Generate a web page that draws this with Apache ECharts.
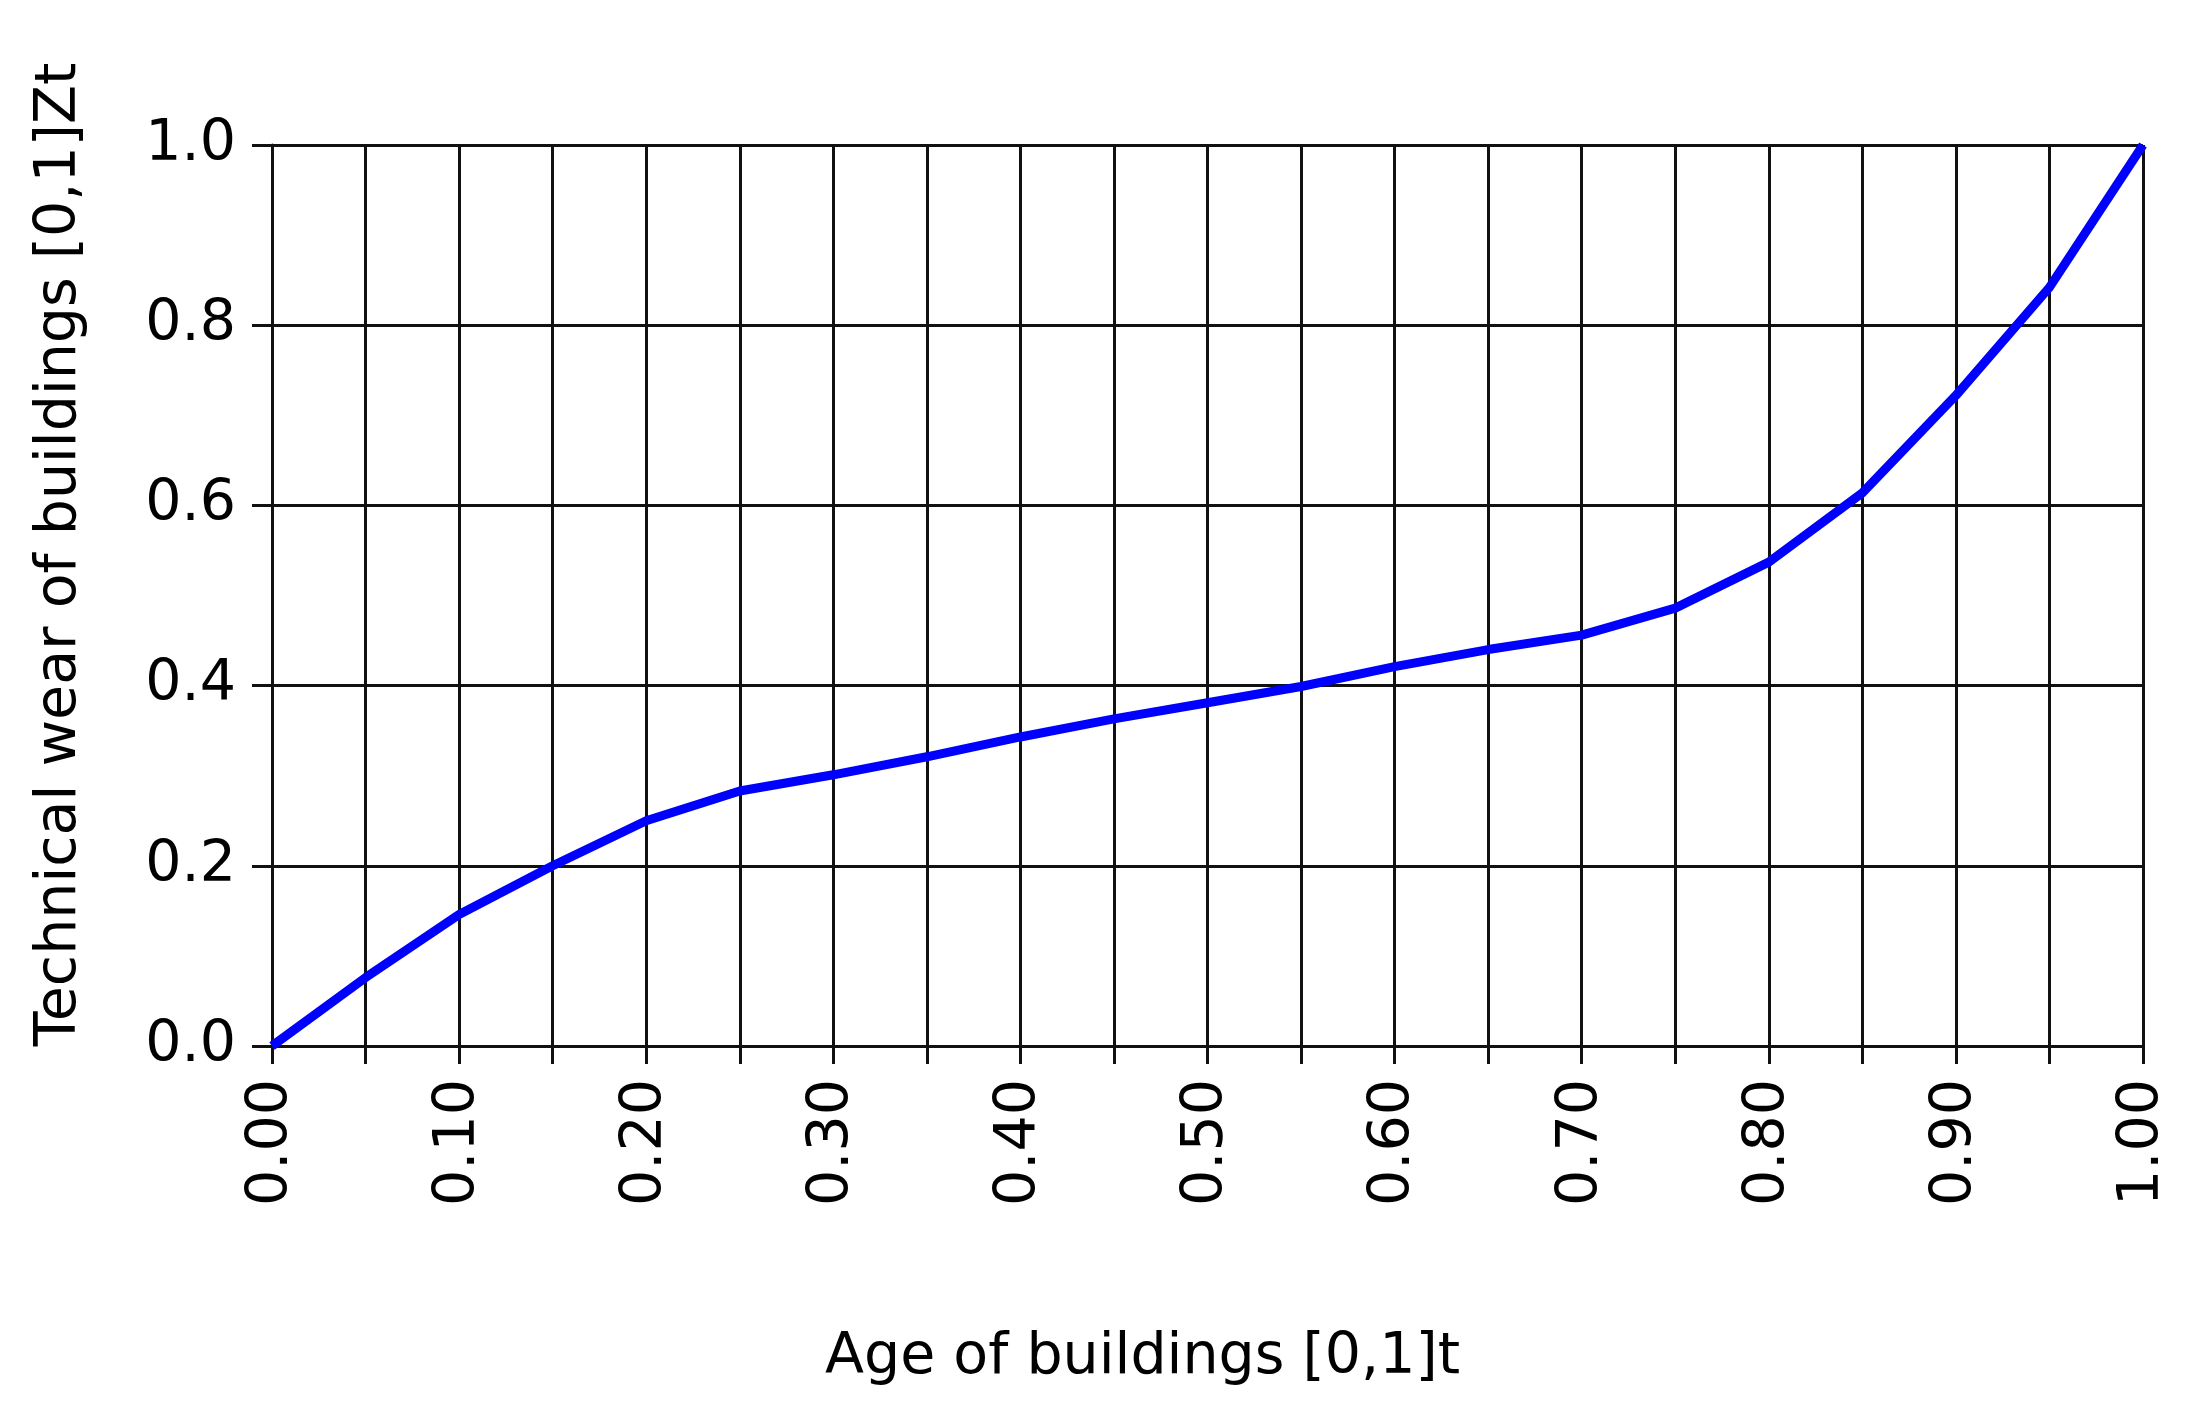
<!DOCTYPE html>
<html>
<head>
<meta charset="utf-8">
<script src="https://cdn.jsdelivr.net/npm/echarts@6/dist/echarts.min.js"></script>
<style>
html,body{margin:0;padding:0;background:#fff;}
#chart{width:2208px;height:1424px;}
</style>
</head>
<body>
<div id="chart"></div>
<script>
var ageValues = [0.00,0.05,0.10,0.15,0.20,0.25,0.30,0.35,0.40,0.45,0.50,0.55,0.60,0.65,0.70,0.75,0.80,0.85,0.90,0.95,1.00];
var wearValues = [0.000,0.076,0.146,0.200,0.250,0.283,0.301,0.321,0.343,0.363,0.381,0.399,0.421,0.440,0.456,0.486,0.537,0.614,0.722,0.842,1.000];
var xAxisTitle = 'Age of buildings [0,1]t';
var yAxisTitle = 'Technical wear of buildings [0,1]Zt';

var seriesData = ageValues.map(function (a, i) { return [a, wearValues[i]]; });
var FONT = '"DejaVu Sans", Verdana, sans-serif';
var FS = 57;
var chart = echarts.init(document.getElementById('chart'));
chart.setOption({
  backgroundColor: '#ffffff',
  animation: false,
  grid: {left: 272, right: 65, top: 145, bottom: 378, containLabel: false},
  xAxis: {
    type: 'value', min: 0, max: 1, interval: 0.05,
    name: xAxisTitle, nameLocation: 'middle', nameGap: 284,
    nameTextStyle: {fontFamily: FONT, fontSize: FS, color: '#000', padding: [0, 130, 0, 0]},
    axisLine: {show: true, lineStyle: {color: '#111', width: 3}},
    axisTick: {show: true, length: 18, lineStyle: {color: '#111', width: 3}},
    axisLabel: {
      rotate: 90, margin: 33, fontFamily: FONT, fontSize: FS, color: '#000',
      formatter: function (v) { var k = Math.round(v * 100); return (k % 10 === 0) ? (k / 100).toFixed(2) : ''; }
    },
    splitLine: {show: true, lineStyle: {color: '#111', width: 3}}
  },
  yAxis: {
    type: 'value', min: 0, max: 1, interval: 0.2,
    name: yAxisTitle, nameLocation: 'middle', nameGap: 183, nameRotate: 90,
    nameTextStyle: {fontFamily: FONT, fontSize: FS, color: '#000', padding: [0, 0, 0, 82]},
    axisLine: {show: true, lineStyle: {color: '#111', width: 3}},
    axisTick: {show: true, length: 20, lineStyle: {color: '#111', width: 3}},
    axisLabel: {
      margin: 36, fontFamily: FONT, fontSize: FS, color: '#000',
      formatter: function (v) { return v.toFixed(1); }
    },
    splitLine: {show: true, lineStyle: {color: '#111', width: 3}}
  },
  series: [{
    type: 'line', data: seriesData, showSymbol: false, smooth: false,
    lineStyle: {color: '#0000ff', width: 9}, z: 5
  }]
});
</script>
</body>
</html>
